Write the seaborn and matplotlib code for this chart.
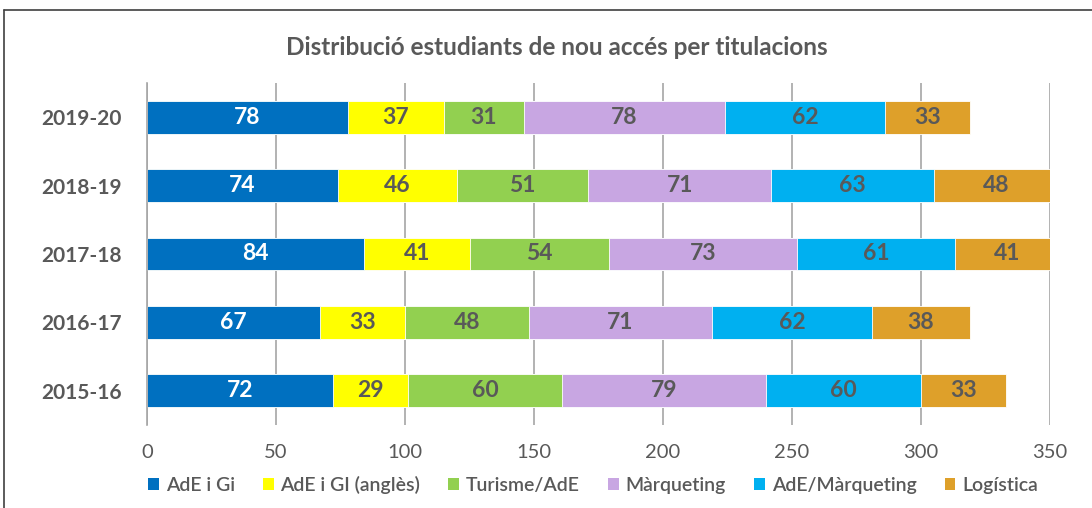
import matplotlib
matplotlib.use("Agg")
import matplotlib.pyplot as plt
import seaborn as sns
import numpy as np
import pandas as pd
from matplotlib.patches import Patch
from matplotlib.lines import Line2D

years = ["2019-20", "2018-19", "2017-18", "2016-17", "2015-16"]
series = ["AdE i Gi", "AdE i GI (anglès)", "Turisme/AdE", "Màrqueting", "AdE/Màrqueting", "Logística"]
ade_gi = [78, 74, 84, 67, 72]
ade_gi_en = [37, 46, 41, 33, 29]
turisme = [31, 51, 54, 48, 60]
marqueting = [78, 71, 73, 71, 79]
ade_marq = [62, 63, 61, 62, 60]
logistica = [33, 48, 41, 38, 33]
xticks = [0, 50, 100, 150, 200, 250, 300, 350]

colors = ["#0070C0", "#FFFF00", "#92D050", "#C8A6E2", "#00B0F0", "#DEA02A"]
label_colors = ["white", "#595959", "#595959", "#595959", "#595959", "#595959"]

sns.set_theme(style="white")
plt.rcParams['font.family'] = ['Lato', 'DejaVu Sans']

values = np.array([ade_gi, ade_gi_en, turisme, marqueting, ade_marq, logistica], dtype=float)
cum = np.cumsum(values, axis=0)

fig = plt.figure(figsize=(10.92, 5.08), dpi=100)
ax = fig.add_axes([147/1092, 1-425/508, (1050-147)/1092, (425-83)/508])

for i in range(len(series) - 1, -1, -1):
    df = pd.DataFrame({"year": years, "val": cum[i]})
    sns.barplot(data=df, x="val", y="year", order=years, orient="h",
                color=colors[i], saturation=1, width=0.48, ax=ax,
                edgecolor="white", linewidth=0.6)

for i in range(len(series)):
    for j, y in enumerate(years):
        start = cum[i][j] - values[i][j]
        ax.text(start + values[i][j] / 2, j, f"{int(values[i][j])}",
                ha="center", va="center", fontsize=16.5, fontweight="bold",
                color=label_colors[i])

ax.set_xlim(0, 350)
ax.set_ylim(4.5, -0.5)
ax.set_xticks(xticks)
ax.set_xticklabels([str(t) for t in xticks], fontsize=14.5, color="#595959")
ax.tick_params(axis="x", length=0, pad=14)
ax.grid(axis="x", color="#A6A6A6", linewidth=1.2)
ax.set_axisbelow(True)
ax.set_xlabel("")
ax.set_ylabel("")
ax.set_yticks(range(len(years)))
ax.set_yticklabels(years, fontsize=15, fontweight="bold", color="#595959")
ax.tick_params(axis="y", which="major", length=0, pad=18)
ax.set_yticks(np.arange(-0.5, 5, 1), minor=True)
ax.tick_params(axis="y", which="minor", length=7, color="#A6A6A6", width=1.2)
for s in ["top", "right", "bottom"]:
    ax.spines[s].set_visible(False)
ax.spines["left"].set_color("#A6A6A6")
ax.spines["left"].set_linewidth(1.2)

fig.text(557/1092, 1-47/508, "Distribució estudiants de nou accés per titulacions",
         ha="center", va="center", fontsize=17.5, fontweight="bold", color="#595959")

handles = [Patch(facecolor=c, edgecolor="none") for c in colors]
fig.legend(handles, series, loc="center", bbox_to_anchor=(593/1092, 1-485/508), ncol=6,
           frameon=False, handlelength=0.55, handleheight=0.55,
           handletextpad=0.35, columnspacing=1.45, labelcolor="#595959",
           prop={"weight": "semibold", "size": 14})

# outer frame
fig.add_artist(Line2D([4/1092, 4/1092], [0, 1-10/508], color="#404040", lw=1.2, transform=fig.transFigure))
fig.add_artist(Line2D([4/1092, 1], [1-10/508, 1-10/508], color="#404040", lw=1.2, transform=fig.transFigure))

fig.savefig("out.png", dpi=100, facecolor="white")
